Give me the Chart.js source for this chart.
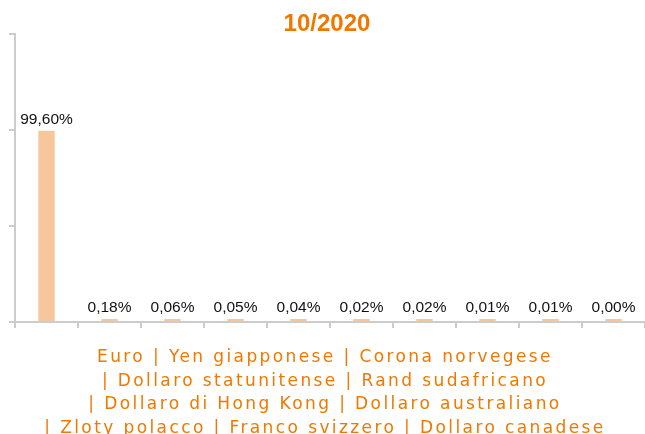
<!DOCTYPE html>
<html>
<head>
<meta charset="utf-8">
<script src="https://cdn.jsdelivr.net/npm/chart.js@4/dist/chart.umd.min.js"></script>
<style>
  html, body { margin: 0; padding: 0; background: #fff; }
  #wrap { width: 645px; height: 434px; position: relative; }
</style>
</head>
<body>
<div id="wrap"><canvas id="chart"></canvas></div>
<script>
// ── Data ──────────────────────────────────────────────────────
const TITLE = "10/2020";
const categories = [
  "Euro", "Yen giapponese", "Corona norvegese", "Dollaro statunitense",
  "Rand sudafricano", "Dollaro di Hong Kong", "Dollaro australiano",
  "Zloty polacco", "Franco svizzero", "Dollaro canadese"
];
const shares = [99.60, 0.18, 0.06, 0.05, 0.04, 0.02, 0.02, 0.01, 0.01, 0.00];
const yTicks = [0, 50, 100, 150];

const ORANGE = "#F07800";
const BAR = "#F6C79A";
const AXIS = "#CCCCCC";

function pct(v) { return v.toFixed(2).replace(".", ",") + "%"; }

// wrap the " | " joined category list, breaking before each pipe
function wrapLabels(ctx, items, maxW) {
  const lines = [];
  let cur = items[0];
  for (let i = 1; i < items.length; i++) {
    const next = cur + " | " + items[i];
    if (ctx.measureText(next).width > maxW) {
      lines.push(cur);
      cur = "| " + items[i];
    } else {
      cur = next;
    }
  }
  lines.push(cur);
  return lines;
}

// ── Value labels above bars ───────────────────────────────────
const valueLabels = {
  id: "valueLabels",
  afterDatasetsDraw(chart) {
    const ctx = chart.ctx;
    const meta = chart.getDatasetMeta(0);
    ctx.save();
    ctx.font = '15.5px "Liberation Sans", Arial, sans-serif';
    ctx.fillStyle = "#111";
    ctx.textAlign = "center";
    ctx.textBaseline = "alphabetic";
    meta.data.forEach((bar, i) => {
      ctx.fillText(pct(shares[i]), bar.x, bar.y - 7);
    });
    ctx.restore();
  }
};

// ── Category list under the axis ──────────────────────────────
const bottomText = {
  id: "bottomText",
  afterDraw(chart) {
    const ctx = chart.ctx;
    ctx.save();
    ctx.font = '17px "DejaVu Sans", Verdana, sans-serif';
    ctx.letterSpacing = "2.4px";
    ctx.fillStyle = ORANGE;
    ctx.textAlign = "center";
    ctx.textBaseline = "alphabetic";
    const lines = wrapLabels(ctx, categories, 585);
    lines.forEach((l, i) => ctx.fillText(l, 325, 362 + i * 23.5));
    ctx.restore();
  }
};

new Chart(document.getElementById("chart"), {
  type: "bar",
  data: {
    labels: categories,
    datasets: [{
      data: shares,
      backgroundColor: BAR,
      borderWidth: 0,
      minBarLength: 3,
      barPercentage: 0.26,
      categoryPercentage: 1
    }]
  },
  options: {
    responsive: true, maintainAspectRatio: false,
    animation: false,
    layout: { padding: { left: 9, right: 0, top: 0, bottom: 106 } },
    plugins: {
      legend: { display: false },
      tooltip: { enabled: false },
      title: {
        display: true, text: TITLE, color: ORANGE,
        font: { family: '"Liberation Sans", Arial, sans-serif', size: 24, weight: "bold", lineHeight: 1 },
        padding: { top: 12, bottom: -2 }
      }
    },
    scales: {
      x: {
        grid: { offset: true, drawOnChartArea: false, drawTicks: true, tickLength: 6, color: AXIS, lineWidth: 2 },
        border: { color: AXIS, width: 2 },
        ticks: { display: false }
      },
      y: {
        min: yTicks[0], max: yTicks[yTicks.length - 1],
        afterBuildTicks: s => { s.ticks = yTicks.map(v => ({ value: v })); },
        grid: { drawOnChartArea: false, drawTicks: true, tickLength: 6, color: AXIS, lineWidth: 2 },
        border: { color: AXIS, width: 2 },
        ticks: { display: false }
      }
    }
  },
  plugins: [valueLabels, bottomText]
});
</script>
</body>
</html>
